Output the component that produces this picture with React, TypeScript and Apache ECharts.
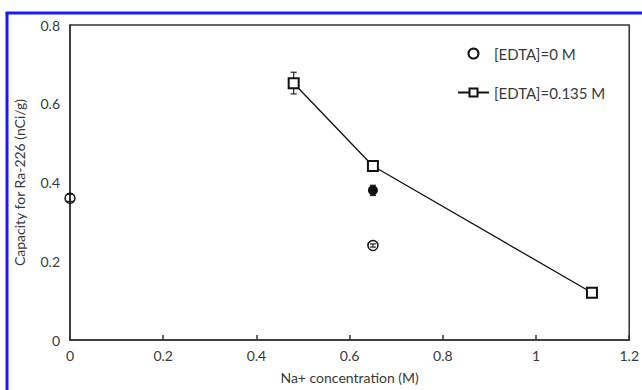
import React, { useEffect, useRef } from "react";
import * as echarts from "echarts";

const xTicks = [0, 0.2, 0.4, 0.6, 0.8, 1, 1.2];
const edta0 = [
  [0, 0.36],
  [0.65, 0.24],
];
const edta0Filled = [[0.65, 0.38]];
const edta135 = [
  [0.48, 0.652],
  [0.65, 0.442],
  [1.12, 0.12],
];
// [x, low, high]
const errorBars = [
  [0, 0.352, 0.37],
  [0.48, 0.625, 0.68],
  [0.65, 0.432, 0.452],
  [0.65, 0.367, 0.393],
  [0.65, 0.236, 0.244],
  [1.12, 0.112, 0.128],
];

const FONT = "Lato, 'Open Sans', sans-serif";
const GREY = "#3a3a3a";

export default function App() {
  const ref = useRef<HTMLDivElement>(null);
  useEffect(() => {
    const chart = echarts.init(ref.current!, null, { renderer: "svg" });
    chart.setOption({
      animation: false,
      backgroundColor: "#ffffff",
      textStyle: { fontFamily: FONT },
      grid: { left: 70, top: 25, right: 8, bottom: 50, show: true, borderColor: "#333", borderWidth: 1.5, backgroundColor: "transparent" },
      legend: {
        orient: "vertical",
        left: 452,
        top: 41,
        itemWidth: 31,
        itemHeight: 10,
        itemGap: 24,
        textStyle: { fontFamily: FONT, fontSize: 15, color: GREY },
        data: ["[EDTA]=0 M", "[EDTA]=0.135 M"],
      },
      xAxis: {
        type: "value",
        min: 0,
        max: 1.2,
        interval: 0.2,
        name: "Na+ concentration (M)",
        nameLocation: "middle",
        nameGap: 30,
        nameTextStyle: { fontFamily: FONT, fontSize: 14, color: GREY },
        axisLine: { show: true, lineStyle: { color: "#333", width: 1.5 } },
        axisTick: { show: true, inside: true, length: 5, lineStyle: { color: "#333", width: 1.5 } },
        axisLabel: {
          fontFamily: FONT,
          fontSize: 14,
          color: GREY,
          margin: 8,
          showMaxLabel: true,
          formatter: (v: number) => String(xTicks.find((t) => Math.abs(t - v) < 1e-6) ?? v),
        },
        splitLine: { show: false },
      },
      yAxis: {
        type: "value",
        min: 0,
        max: 0.8,
        interval: 0.2,
        name: "Capacity for Ra-226 (nCi/g)",
        nameLocation: "middle",
        nameGap: 44,
        nameTextStyle: { fontFamily: FONT, fontSize: 14, color: GREY },
        axisLine: { show: true, lineStyle: { color: "#333", width: 1.5 } },
        axisTick: { show: false },
        axisLabel: { fontFamily: FONT, fontSize: 14, color: GREY, margin: 10 },
        splitLine: { show: false },
      },
      graphic: [
        { type: "line", shape: { x1: 7, y1: 13, x2: 7, y2: 390 }, style: { stroke: "#1a1aff", lineWidth: 3 } },
        { type: "line", shape: { x1: 5.5, y1: 13, x2: 642, y2: 13 }, style: { stroke: "#1a1aff", lineWidth: 3 } },
      ],
      series: [
        {
          type: "custom",
          z: 1,
          clip: false,
          data: errorBars,
          renderItem: (params: any, api: any) => {
            const x = api.value(0);
            const lo = api.coord([x, api.value(1)]);
            const hi = api.coord([x, api.value(2)]);
            const c = 3;
            return {
              type: "group",
              children: [
                { type: "line", shape: { x1: lo[0], y1: lo[1], x2: hi[0], y2: hi[1] }, style: { stroke: "#222", lineWidth: 1.2 } },
                { type: "line", shape: { x1: lo[0] - c, y1: lo[1], x2: lo[0] + c, y2: lo[1] }, style: { stroke: "#222", lineWidth: 1.2 } },
                { type: "line", shape: { x1: hi[0] - c, y1: hi[1], x2: hi[0] + c, y2: hi[1] }, style: { stroke: "#222", lineWidth: 1.2 } },
              ],
            };
          },
        },
        {
          name: "[EDTA]=0 M",
          type: "scatter",
          clip: false,
          z: 3,
          symbol: "circle",
          symbolSize: 10,
          itemStyle: { color: "transparent", borderColor: "#111", borderWidth: 1.5, opacity: 1 },
          data: edta0,
        },
        {
          name: "filled",
          type: "scatter",
          clip: false,
          z: 3,
          symbol: "circle",
          symbolSize: 10,
          itemStyle: { color: "#111", opacity: 1 },
          data: edta0Filled,
        },
        {
          name: "[EDTA]=0.135 M",
          type: "line",
          clip: false,
          z: 3,
          symbol: "emptyRect",
          symbolSize: 10,
          lineStyle: { color: "#111", width: 1.3 },
          itemStyle: { color: "#111", borderWidth: 1.5 },
          data: edta135,
        },
      ],
    });
    return () => chart.dispose();
  }, []);
  return <div ref={ref} style={{ width: 642, height: 390, position: "absolute", left: 0, top: 0 }} />;
}
